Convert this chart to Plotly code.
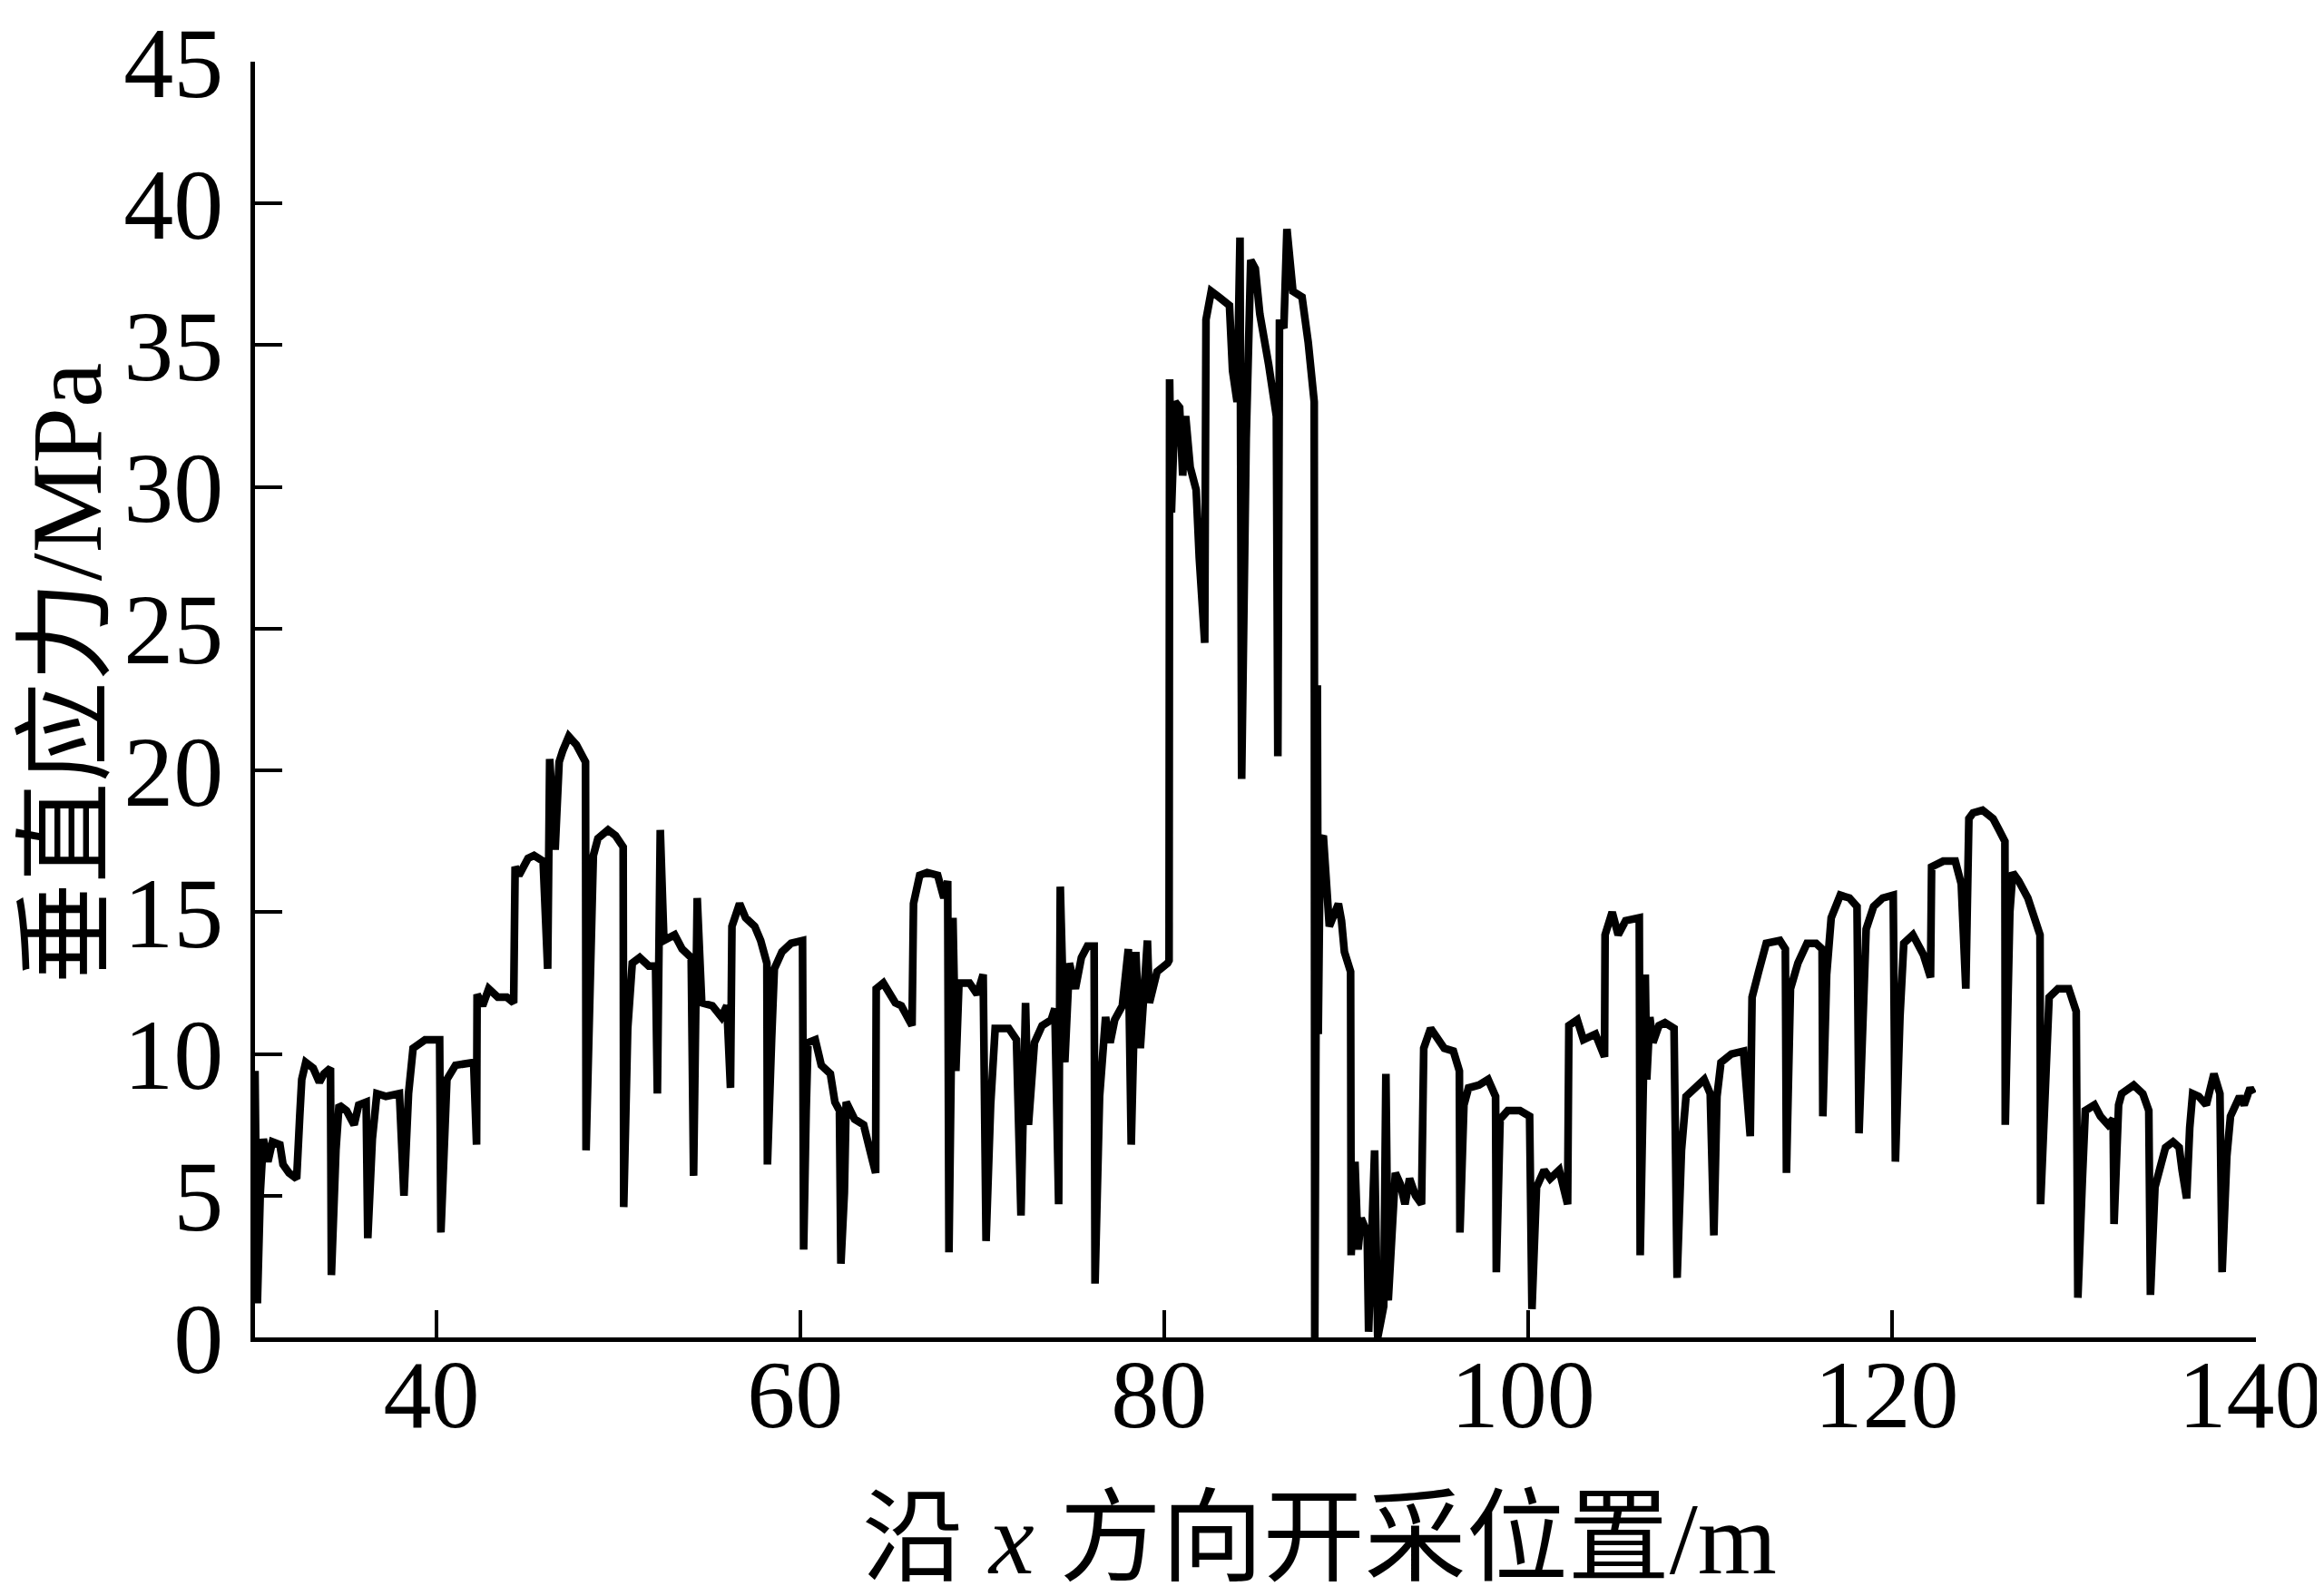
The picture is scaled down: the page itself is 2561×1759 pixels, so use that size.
import plotly.graph_objects as go

# ---- data (position along x / m, vertical stress / MPa) ----
pos_a = [30.0, 30.13, 30.29, 30.46, 30.71, 30.96, 31.37, 31.54, 31.87, 32.29, 32.46, 32.57, 32.79, 33.2, 33.54,
         33.79, 34.15, 34.2, 34.45, 34.62, 35.03, 35.45, 35.7, 36.11, 36.2, 36.45, 36.7, 37.19, 37.94, 38.19,
         38.44, 38.69, 39.35, 40.15, 40.22, 40.44, 40.55, 41.02, 42.02, 42.18, 42.21, 42.51, 42.85, 43.35, 43.84,
         44.22, 44.3, 44.51, 45.01, 45.34, 45.84, 46.09, 46.2, 46.5, 46.72, 46.92, 47.25, 47.67, 48.0, 48.17, 48.2]
sig_a = [9.4, 1.2, 5.1, 7.0, 6.2, 6.9, 6.8, 6.1, 5.8, 5.6, 7.8, 9.1, 9.7, 9.5, 9.0,
         9.3, 9.5, 2.2, 6.6, 8.2, 8.0, 7.5, 8.2, 8.3, 3.5, 7.0, 8.6, 8.5, 8.6, 5.0,
         8.6, 10.2, 10.5, 10.5, 3.7, 7.0, 9.1, 9.6, 9.7, 6.8, 12.1, 11.7, 12.3, 12.0, 12.0,
         11.8, 16.6, 16.3, 16.9, 17.0, 16.8, 13.0, 20.4, 17.2, 20.3, 20.7, 21.2, 20.9, 20.4, 20.3, 6.6]

pos_b = [48.42, 48.6, 48.85, 49.41, 49.82, 50.24, 50.27, 50.49, 50.74, 51.15, 51.65, 52.02, 52.12, 52.28, 52.48,
         53.07, 53.48, 53.98, 54.11, 54.31, 54.56, 55.14, 55.64, 55.94, 56.14, 56.22, 56.64, 56.97, 57.47, 57.8,
         58.14, 58.17, 58.4, 58.55, 58.97, 59.47, 60.1, 60.16, 60.3, 60.4, 60.8, 61.13, 61.63, 61.88, 62.13,
         62.21, 62.4, 62.5, 62.96, 63.46, 63.96, 64.12, 64.15, 64.54, 65.2, 65.53, 65.95, 66.12, 66.2]
sig_b = [13.9, 17.0, 17.6, 17.9, 17.7, 17.3, 4.6, 10.9, 13.2, 13.4, 13.1, 13.1, 8.6, 17.9, 14.0,
         14.2, 13.7, 13.4, 5.7, 15.5, 11.8, 11.7, 11.3, 11.7, 8.8, 14.5, 15.3, 14.8, 14.5, 14.0,
         13.2, 6.1, 10.5, 13.0, 13.6, 13.9, 14.0, 3.1, 8.0, 10.4, 10.5, 9.6, 9.3, 8.3, 8.0,
         2.6, 5.1, 8.3, 7.7, 7.5, 6.2, 5.8, 12.3, 12.5, 11.8, 11.7, 11.2, 11.0, 15.3]

pos_c = [66.54, 66.95, 67.53, 67.87, 68.08, 68.15, 68.37, 68.53, 68.7, 69.28, 69.7, 70.03, 70.19, 70.44, 70.69,
         71.44, 71.86, 72.11, 72.36, 72.52, 72.85, 73.27, 73.77, 73.97, 74.18, 74.27, 74.52, 74.77, 75.1, 75.43,
         75.76, 76.13, 76.18, 76.43, 76.76, 77.01, 77.26, 77.68, 78.01, 78.17, 78.42, 78.67, 79.06, 79.17, 79.59,
         80.17]
sig_c = [16.3, 16.4, 16.3, 15.5, 16.1, 3.0, 14.8, 9.4, 12.5, 12.5, 12.1, 12.8, 3.4, 8.2, 10.9,
         10.9, 10.5, 4.3, 11.8, 7.5, 10.4, 11.0, 11.2, 11.6, 4.7, 15.9, 9.7, 13.2, 12.3, 13.4,
         13.8, 13.8, 1.9, 8.5, 11.3, 10.4, 11.2, 11.7, 13.7, 6.8, 13.6, 10.2, 14.0, 11.8, 12.9,
         13.2]

pos_d = [80.25, 80.28, 80.38, 80.58, 80.83, 81.0, 81.16, 81.41, 81.74, 81.91, 82.21, 82.28, 82.57, 82.99, 83.57,
         83.74, 83.99, 84.15, 84.24, 84.49, 84.74, 84.99, 85.24, 85.73, 86.15, 86.23, 86.32, 86.56, 86.73, 87.06,
         87.56, 87.9, 88.23, 88.26, 88.4, 88.45, 88.56, 88.73, 88.9, 89.06, 89.56, 89.73, 89.89, 90.23]
sig_d = [13.3, 33.8, 29.1, 33.0, 32.8, 30.4, 32.5, 30.7, 29.9, 27.5, 24.5, 35.9, 36.9, 36.7, 36.4,
         34.1, 33.0, 38.8, 19.7, 31.7, 38.0, 37.7, 36.1, 34.3, 32.5, 20.5, 35.9, 35.6, 39.1, 36.9,
         36.7, 35.1, 33.0, 0.0, 23.0, 10.7, 17.5, 17.7, 15.5, 14.5, 15.3, 14.7, 13.6, 12.9]

pos_e = [90.26, 90.47, 90.64, 90.81, 91.14, 91.22, 91.55, 91.72, 92.05, 92.17, 92.3, 92.55, 92.69, 92.97, 93.22,
         93.47, 93.8, 94.13, 94.25, 94.63, 95.05, 95.38, 95.88, 96.21, 96.24, 96.46, 96.71, 97.29, 97.79, 98.2,
         98.24, 98.45, 98.87, 99.54, 100.07, 100.2, 100.45, 100.87, 101.2, 101.7, 102.16, 102.23, 102.69, 103.03,
         103.69, 104.19, 104.22, 104.61, 104.94, 105.35, 106.1, 106.15]
sig_e = [2.9, 6.2, 3.1, 4.2, 3.7, 0.2, 6.6, 0.0, 1.1, 9.3, 1.3, 4.0, 5.8, 5.4, 4.7,
         5.6, 5.0, 4.7, 10.2, 10.9, 10.5, 10.2, 10.1, 9.4, 3.7, 8.2, 8.8, 8.9, 9.1, 8.5,
         2.3, 7.7, 8.0, 8.0, 7.8, 1.0, 5.3, 5.9, 5.6, 5.9, 4.7, 11.0, 11.2, 10.5,
         10.7, 9.9, 14.2, 15.0, 14.2, 14.7, 14.8, 2.9]

pos_f = [106.43, 106.51, 106.68, 106.85, 107.18, 107.51, 108.01, 108.18, 108.42, 108.67, 109.34, 109.67, 110.0,
         110.2, 110.37, 110.59, 111.17, 111.83, 112.2, 112.3, 112.66, 113.08, 113.83, 114.13, 114.19, 114.41,
         114.82, 115.32, 115.82, 116.15, 116.19, 116.4, 116.65, 117.15, 117.65, 118.07, 118.18, 118.4, 118.57,
         118.98, 119.48, 120.06, 120.18, 120.43, 120.64, 121.14, 121.72, 122.11, 122.17, 122.81, 123.47, 123.8,
         124.05, 124.22]
sig_f = [12.8, 9.1, 11.3, 10.4, 11.0, 11.1, 10.9, 2.1, 6.6, 8.5, 8.9, 9.1, 8.6,
         3.6, 8.5, 9.7, 10.0, 10.1, 7.1, 12.0, 12.9, 13.9, 14.0, 13.7, 5.8, 12.3,
         13.2, 13.9, 13.9, 13.7, 7.8, 12.8, 14.8, 15.6, 15.5, 15.2, 7.2, 12.6, 14.4,
         15.2, 15.5, 15.6, 6.2, 11.3, 13.9, 14.2, 13.5, 12.7, 16.6, 16.8, 16.8, 16.0,
         12.3, 18.3]

pos_g = [124.45, 124.97, 125.55, 125.88, 126.2, 126.22, 126.47, 126.63, 126.96, 127.46, 127.88, 128.13, 128.16,
         128.43, 128.63, 129.12, 129.71, 130.12, 130.21, 130.46, 130.62, 131.12, 131.45, 131.87, 132.15, 132.2,
         132.45, 132.62, 133.28, 133.78, 134.11, 134.2, 134.45, 134.78, 135.03, 135.44, 135.78, 135.94, 136.19,
         136.36, 136.52, 136.86, 137.27, 137.69, 138.02, 138.14, 138.4, 138.6, 139.1, 139.35, 139.68, 139.85]
sig_g = [18.5, 18.6, 18.3, 17.9, 17.5, 7.5, 15.0, 16.4, 16.1, 15.5, 14.8, 14.2, 4.7,
         9.7, 12.0, 12.3, 12.3, 11.5, 1.4, 5.6, 8.0, 8.2, 7.8, 7.5, 7.7, 4.0,
         8.2, 8.6, 8.9, 8.6, 8.0, 1.5, 5.3, 6.1, 6.7, 6.9, 6.7, 5.9, 4.9,
         7.4, 8.6, 8.5, 8.2, 9.3, 8.6, 2.3, 6.4, 7.8, 8.5, 8.2, 8.8, 8.6]

x_ticks = [40, 60, 80, 100, 120, 140]
y_ticks = [0, 5, 10, 15, 20, 25, 30, 35, 40, 45]
x_title = "沿 <i>x</i> 方向开采位置/m"
y_title = "垂直应力/MPa"

positions = pos_a + pos_b + pos_c + pos_d + pos_e + pos_f + pos_g
stress = sig_a + sig_b + sig_c + sig_d + sig_e + sig_f + sig_g

FONT = "Liberation Serif, Times New Roman, Noto Sans CJK SC, serif"

fig = go.Figure()
fig.add_trace(go.Scatter(x=positions, y=stress, mode="lines",
                         line=dict(color="black", width=8.5), showlegend=False))

axis_common = dict(
    showgrid=False, zeroline=False, showline=True, linecolor="black", linewidth=4.5,
    ticks="inside", ticklen=30, tickwidth=4, tickcolor="black", automargin=False,
    ticklabeloverflow="allow", mirror=False,
)

fig.update_layout(
    width=2561, height=1759, autosize=False,
    paper_bgcolor="white", plot_bgcolor="white",
    margin=dict(l=273, r=83, t=60, b=293),
    xaxis=dict(range=[30, 140], tickvals=x_ticks, ticklabelstandoff=-33, ticklabelshift=-6,
               tickfont=dict(family=FONT, size=106, color="black"), **axis_common),
    yaxis=dict(range=[0, 45], tickvals=y_ticks, ticklabelstandoff=8,
               tickfont=dict(family=FONT, size=110, color="black"), **axis_common),
    annotations=[
        dict(text=x_title, xref="paper", yref="paper", x=0.532, y=-0.158,
             xanchor="center", yanchor="middle", showarrow=False,
             font=dict(family=FONT, size=112, color="black")),
        dict(text=y_title, xref="paper", yref="paper", x=-0.094, y=0.521,
             xanchor="center", yanchor="middle", textangle=-90, showarrow=False,
             font=dict(family=FONT, size=111, color="black")),
    ],
)

fig.write_html("out.html")
